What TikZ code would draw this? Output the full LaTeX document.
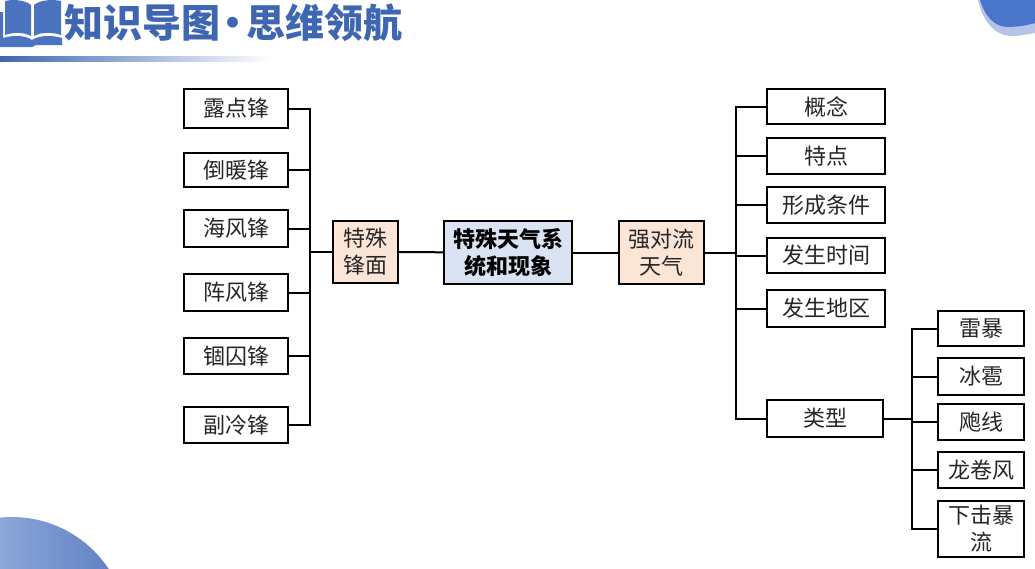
\documentclass[tikz,border=0pt]{standalone}
\usepackage{fontspec}
\setmainfont{Noto Sans CJK SC}
\usepackage{tikz}
\usetikzlibrary{positioning}
\definecolor{titleblue}{HTML}{3F67B1}
\definecolor{bookblue}{HTML}{4A74C0}
\definecolor{cornerblue}{HTML}{4A76C9}
\definecolor{cornerpale}{HTML}{B4C4E8}
\definecolor{roundleft}{HTML}{B4C8EE}
\definecolor{roundright}{HTML}{5A7CC0}
\definecolor{peachfill}{HTML}{FBE5D6}
\definecolor{rootfill}{HTML}{DAE3F3}

\begin{document}
\begin{tikzpicture}[
  x=1pt, y=-1pt,
  every node/.style={inner sep=0pt, align=center},
  leaf/.style={
    rectangle, draw=black, fill=white, line width=2pt,
    font=\fontsize{22}{27}\selectfont, text=black!85
  },
  branch/.style={
    rectangle, draw=black, fill=peachfill, line width=2pt,
    font=\fontsize{22}{27}\selectfont, text=black!85
  },
  rootbox/.style={
    rectangle, draw=black, fill=rootfill, line width=2pt,
    font=\fontsize{22}{27}\selectfont\bfseries
  },
  link/.style={draw=black, line width=2pt}
]
\useasboundingbox (0,0) rectangle (1035,568);

% Cantos
\begin{scope}
  \clip (0,0) rectangle (1035,568);
  \fill[cornerpale] (978,0) .. controls (983,22) and (995,36) .. (1012,36) .. controls (1020,36) and (1028,34) .. (1035,33) -- (1035,0) -- cycle;
  \fill[cornerblue] (980,0) .. controls (985,16) and (994,27) .. (1008,27) .. controls (1018,27) and (1028,25) .. (1035,23) -- (1035,0) -- cycle;
  \shade[left color=roundleft, right color=roundright] (12,633) circle (116);
\end{scope}

% Titulo
\fill[bookblue] (5,1) .. controls (13,-1) and (25,0) .. (31,5) -- (31,36) .. controls (24,32) and (13,32) .. (5,35) -- cycle;
\fill[bookblue] (34,5) .. controls (40,0) and (52,-1) .. (61,1) -- (61,35) .. controls (52,32) and (41,32) .. (34,36) -- cycle;
\fill[bookblue] (0,12) -- (3,12) -- (3,38) .. controls (13,35) and (25,35) .. (32,40) .. controls (40,35) and (52,35) .. (62,38) -- (62,45) -- (36,45) -- (32,47) -- (0,47) -- cycle;
\node[anchor=west, text=titleblue, font=\fontsize{39}{42}\selectfont\bfseries] (title) at (64,23) {知识导图\hspace{-6.5pt}·\hspace{-6.5pt}思维领航};
\shade[left color=titleblue, middle color=titleblue!65, right color=white] (0,56) rectangle (272,61);

% Nos
\node[rootbox, minimum width=128pt, minimum height=63pt] (root) at (508,252.5) {特殊天气系\\统和现象};
\node[branch, minimum width=65pt, minimum height=62pt] (front) at (365.5,252) {特殊\\锋面};
\node[branch, minimum width=85pt, minimum height=63pt] (storm) at (661.5,252.5) {强对流\\天气};

\node[leaf, minimum width=104pt, minimum height=39pt] (dew) at (236,108.5) {露点锋};
\node[leaf, minimum width=104pt, minimum height=34pt] (warm) at (236,170) {倒暖锋};
\node[leaf, minimum width=104pt, minimum height=37pt] (sea) at (236,228.5) {海风锋};
\node[leaf, minimum width=104pt, minimum height=37pt] (gust) at (236,292.5) {阵风锋};
\node[leaf, minimum width=104pt, minimum height=36pt] (occl) at (236,356) {锢囚锋};
\node[leaf, minimum width=104pt, minimum height=36pt] (cold) at (236,425) {副冷锋};

\node[leaf, minimum width=118pt, minimum height=35pt] (idea) at (826,106.5) {概念};
\node[leaf, minimum width=118pt, minimum height=36pt] (trait) at (826,156) {特点};
\node[leaf, minimum width=118pt, minimum height=36pt] (cond) at (826,205) {形成条件};
\node[leaf, minimum width=118pt, minimum height=35pt] (time) at (826,255.5) {发生时间};
\node[leaf, minimum width=118pt, minimum height=37pt] (area) at (826,308.5) {发生地区};
\node[leaf, minimum width=116pt, minimum height=37pt] (kind) at (825,418.5) {类型};

\node[leaf, minimum width=86pt, minimum height=35pt] (thunder) at (981,328.5) {雷暴};
\node[leaf, minimum width=86pt, minimum height=37pt] (hail) at (981,376.5) {冰雹};
\node[leaf, minimum width=86pt, minimum height=36pt] (squall) at (981,422) {飑线};
\node[leaf, minimum width=86pt, minimum height=36pt] (tornado) at (981,470) {龙卷风};
\node[leaf, minimum width=86pt, minimum height=56pt] (burst) at (981,529) {下击暴\\流};

\coordinate (frontbus) at (310,252);
\coordinate (stormbus) at (736,252.5);
\coordinate (kindbus) at (912,418.5);

% Ligacoes
\draw[link] (root) -- (front);
\draw[link] (root) -- (storm);

\draw[link] (front) -- (frontbus);
\draw[link] (frontbus) |- (dew);
\draw[link] (frontbus) |- (warm);
\draw[link] (frontbus) |- (sea);
\draw[link] (frontbus) |- (gust);
\draw[link] (frontbus) |- (occl);
\draw[link] (frontbus) |- (cold);

\draw[link] (storm) -- (stormbus);
\draw[link] (stormbus) |- (idea);
\draw[link] (stormbus) |- (trait);
\draw[link] (stormbus) |- (cond);
\draw[link] (stormbus) |- (time);
\draw[link] (stormbus) |- (area);
\draw[link] (stormbus) |- (kind);

\draw[link] (kind) -- (kindbus);
\draw[link] (kindbus) |- (thunder);
\draw[link] (kindbus) |- (hail);
\draw[link] (kindbus) |- (squall);
\draw[link] (kindbus) |- (tornado);
\draw[link] (kindbus) |- (burst);

\end{tikzpicture}
\end{document}
